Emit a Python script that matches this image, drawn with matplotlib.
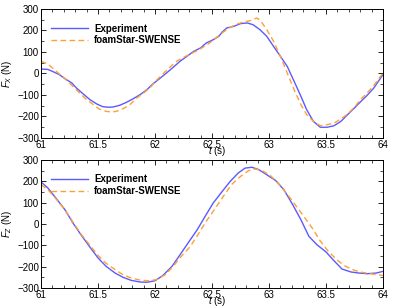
import matplotlib
matplotlib.use("Agg")
import matplotlib.pyplot as plt
from matplotlib.ticker import MultipleLocator

plt.rcParams['font.family'] = ['Liberation Sans', 'DejaVu Sans']
plt.rcParams['mathtext.fontset'] = 'custom'
plt.rcParams['mathtext.it'] = 'Liberation Sans:italic'
plt.rcParams['mathtext.rm'] = 'Liberation Sans'

# Fx data
t_fx_exp = [61.00, 61.06, 61.10, 61.16, 61.21, 61.27, 61.31, 61.37, 61.43, 61.49, 61.54, 61.59,
            61.63, 61.69, 61.75, 61.81, 61.87, 61.93, 61.98, 62.04, 62.10, 62.16, 62.22, 62.28,
            62.34, 62.40, 62.45, 62.51, 62.56, 62.59, 62.63, 62.69, 62.75, 62.81, 62.86, 62.92,
            62.98, 63.04, 63.10, 63.16, 63.22, 63.28, 63.33, 63.39, 63.45, 63.51, 63.57, 63.63,
            63.69, 63.75, 63.80, 63.86, 63.92, 64.00]
fx_exp = [21, 19, 10, -5, -24, -44, -67, -95, -122, -142, -154, -157,
          -156, -148, -134, -117, -98, -75, -49, -24, 2, 29, 57, 80,
          103, 119, 142, 157, 173, 193, 212, 219, 232, 235, 227, 204,
          173, 126, 80, 33, -36, -106, -168, -223, -250, -250, -243, -223,
          -191, -160, -133, -102, -67, -5]

t_fx_sim = [61.00, 61.06, 61.10, 61.16, 61.22, 61.28, 61.34, 61.40, 61.46, 61.51, 61.57, 61.62,
            61.66, 61.72, 61.78, 61.84, 61.90, 61.96, 62.01, 62.07, 62.13, 62.19, 62.25, 62.31,
            62.37, 62.42, 62.48, 62.54, 62.60, 62.66, 62.72, 62.78, 62.84, 62.89, 62.92, 62.98,
            63.04, 63.10, 63.16, 63.22, 63.28, 63.33, 63.39, 63.45, 63.51, 63.57, 63.63, 63.69,
            63.75, 63.80, 63.86, 63.92, 64.00]
fx_sim = [57, 44, 26, -2, -29, -60, -91, -122, -145, -165, -176, -179,
          -176, -164, -145, -114, -91, -64, -33, -2, 29, 57, 75, 91,
          106, 122, 142, 168, 193, 215, 230, 240, 246, 258, 250, 204,
          150, 80, 2, -75, -145, -191, -223, -243, -238, -231, -212, -188,
          -157, -122, -91, -55, 2]

# Fz data
t_fz_exp = [61.00, 61.06, 61.13, 61.21, 61.28, 61.35, 61.43, 61.50, 61.57, 61.65, 61.72, 61.79,
            61.87, 61.93, 62.00, 62.07, 62.15, 62.22, 62.29, 62.37, 62.44, 62.51, 62.59, 62.66,
            62.73, 62.79, 62.85, 62.91, 62.98, 63.06, 63.13, 63.20, 63.28, 63.35, 63.42, 63.50,
            63.57, 63.64, 63.72, 63.79, 63.86, 63.94, 64.00]
fz_exp = [197, 169, 122, 67, 5, -50, -109, -159, -198, -230, -250, -264,
          -272, -273, -266, -241, -198, -144, -89, -27, 36, 98, 153, 200,
          239, 262, 266, 255, 231, 203, 161, 98, 20, -58, -97, -131,
          -172, -211, -225, -230, -233, -230, -222]

t_fz_sim = [61.00, 61.06, 61.13, 61.21, 61.28, 61.35, 61.43, 61.50, 61.57, 61.65, 61.72, 61.79,
            61.87, 61.94, 62.01, 62.09, 62.16, 62.23, 62.31, 62.38, 62.45, 62.53, 62.60, 62.67,
            62.75, 62.82, 62.88, 62.94, 63.01, 63.08, 63.16, 63.23, 63.30, 63.38, 63.45, 63.52,
            63.60, 63.67, 63.75, 63.82, 63.89, 63.95, 64.00]
fz_sim = [184, 161, 119, 67, 9, -47, -100, -147, -184, -214, -238, -253,
          -263, -266, -261, -238, -198, -152, -105, -47, 13, 75, 130, 184,
          223, 250, 258, 250, 228, 192, 140, 90, 40, -20, -80, -128,
          -170, -198, -217, -227, -233, -238, -241]

labels = ['Experiment', 'foamStar-SWENSE']
xticks = [61, 61.5, 62, 62.5, 63, 63.5, 64]
xticklabels = ['61', '61.5', '62', '62.5', '63', '63.5', '64']
yticks = [-300, -200, -100, 0, 100, 200, 300]

blue = '#5a5aff'
orange = '#ffa033'

fig = plt.figure(figsize=(4.05, 3.06), dpi=100)
ax1 = fig.add_axes([41/405, 1 - 138/306, 342/405, 129/306])
ax2 = fig.add_axes([41/405, 1 - 288/306, 342/405, 128/306])

panels = [
    (ax1, t_fx_exp, fx_exp, t_fx_sim, fx_sim, r'$F_X$ (N)'),
    (ax2, t_fz_exp, fz_exp, t_fz_sim, fz_sim, r'$F_Z$ (N)'),
]
for ax, te, ve, ts, vs, ylab in panels:
    ax.plot(te, ve, color=blue, lw=1.0, label=labels[0])
    ax.plot(ts, vs, color=orange, lw=1.0, ls=(0, (4, 2.5)), label=labels[1])
    ax.set_xlim(61, 64)
    ax.set_ylim(-300, 300)
    ax.set_xticks(xticks)
    ax.set_xticklabels(xticklabels)
    ax.set_yticks(yticks)
    ax.xaxis.set_minor_locator(MultipleLocator(0.1))
    ax.yaxis.set_minor_locator(MultipleLocator(50))
    ax.tick_params(which='both', direction='in', top=True, right=True, labelsize=7, pad=1.5)
    ax.tick_params(which='major', length=3.5, width=0.6)
    ax.tick_params(which='minor', length=2, width=0.5)
    for s in ax.spines.values():
        s.set_linewidth(0.7)
    ax.set_ylabel(ylab, fontsize=7, labelpad=2)
    ax.set_xlabel(r'$t$ (s)', fontsize=7)
    ax.xaxis.set_label_coords(0.515, -0.045)
    ax.xaxis.label.set_va('top')
    leg = ax.legend(loc='upper left', bbox_to_anchor=(0.01, 0.94), frameon=False,
                    prop={'size': 7, 'weight': 'bold'}, handlelength=3.8,
                    handletextpad=0.6, labelspacing=0.2, borderaxespad=0.3)

fig.savefig('out.png', dpi=100)
